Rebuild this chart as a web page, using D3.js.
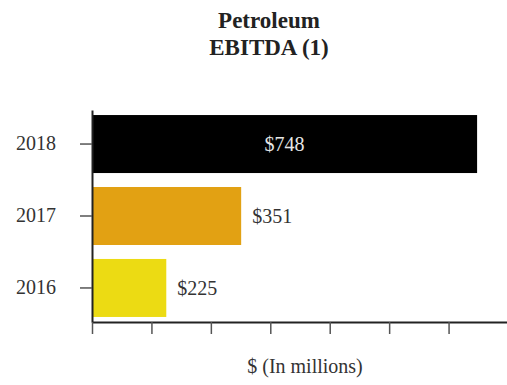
<!DOCTYPE html>
<html>
<head>
<meta charset="utf-8">
<script src="https://cdn.jsdelivr.net/npm/d3@7"></script>
<style>
  html, body { margin: 0; padding: 0; background: #fff; }
  svg { display: block; }
  text { font-family: "Liberation Serif", "Times New Roman", serif; }
</style>
</head>
<body>
<svg id="chart" width="507" height="385"></svg>
<script>
// Petroleum EBITDA by year, $ millions
const years = ["2018", "2017", "2016"];
const ebitda = [748, 351, 225];
const barColors = ["#000000", "#e2a113", "#ecdb13"];
const valueLabels = ["$748", "$351", "$225"];
const xTicks = [100, 200, 300, 400, 500, 600, 700, 800];
const titleLines = ["Petroleum", "EBITDA (1)"];
const xTitle = "$ (In millions)";

const svg = d3.select("#chart");

const x = d3.scaleLinear().domain([100, 800]).range([92, 508]);
const y = d3.scaleBand().domain(years).range([110, 322])
  .paddingInner(0.194).paddingOuter(0.07);

const rows = years.map((yr, i) => ({ yr, v: ebitda[i], c: barColors[i], label: valueLabels[i] }));

// bars
svg.append("g").selectAll("rect").data(rows).join("rect")
  .attr("x", x(x.domain()[0]))
  .attr("y", d => y(d.yr))
  .attr("width", d => x(d.v) - x(x.domain()[0]))
  .attr("height", y.bandwidth())
  .attr("fill", d => d.c);

// value labels: inside the long bar, just past the end of shorter ones
svg.append("g").selectAll("text").data(rows).join("text")
  .attr("x", d => d.v > 500 ? (x(x.domain()[0]) + x(d.v)) / 2 : x(d.v) + 11)
  .attr("y", d => y(d.yr) + y.bandwidth() / 2)
  .attr("dy", "0.35em")
  .attr("text-anchor", d => d.v > 500 ? "middle" : "start")
  .attr("fill", d => d.v > 500 ? "#e6e6e6" : "#333")
  .attr("font-size", 20)
  .text(d => d.label);

// y axis
const yAxis = svg.append("g")
  .attr("transform", `translate(${x(x.domain()[0])},0)`)
  .call(d3.axisLeft(y).tickSize(12).tickPadding(24).tickSizeOuter(0));
yAxis.select(".domain").attr("stroke", "#222").attr("stroke-width", 2);
yAxis.selectAll(".tick line").attr("stroke", "#555").attr("stroke-width", 1.5);
yAxis.selectAll(".tick text")
  .attr("font-family", "Liberation Serif, serif")
  .attr("font-size", 20).attr("fill", "#333");

// x axis (ticks only, no labels)
const xAxis = svg.append("g")
  .attr("transform", "translate(0,322)")
  .call(d3.axisBottom(x).tickValues(xTicks).tickSize(12).tickSizeOuter(0).tickFormat(""));
xAxis.select(".domain").attr("stroke", "#222").attr("stroke-width", 2);
xAxis.selectAll(".tick line").attr("stroke", "#555").attr("stroke-width", 1.5);

// title
svg.append("g").selectAll("text").data(titleLines).join("text")
  .attr("x", 269)
  .attr("y", (d, i) => 28 + i * 27)
  .attr("text-anchor", "middle")
  .attr("font-weight", "bold")
  .attr("font-size", 23)
  .attr("fill", "#222")
  .text(d => d);

// x axis title
svg.append("text")
  .attr("x", 305).attr("y", 373)
  .attr("text-anchor", "middle")
  .attr("font-size", 20)
  .attr("fill", "#333")
  .text(xTitle);
</script>
</body>
</html>
